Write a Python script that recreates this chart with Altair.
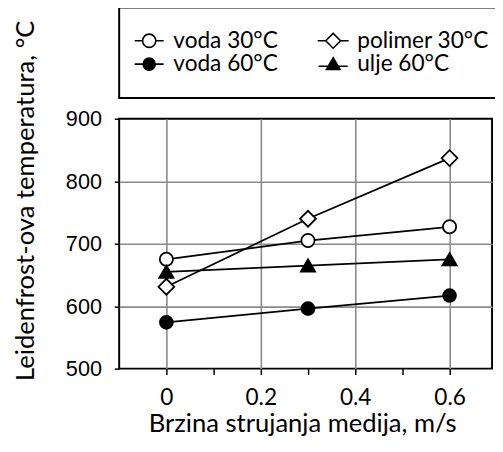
import altair as alt
import pandas as pd

speeds = [0.0, 0.3, 0.6]
series_names = ["voda 30°C", "polimer 30°C", "voda 60°C", "ulje 60°C"]
voda30 = [675, 705, 727]
polimer30 = [631, 740, 837]
voda60 = [574, 596, 617]
ulje60 = [655, 665, 675]

# legend order (legend fills column by column)
legend_order = ["voda 30°C", "voda 60°C", "polimer 30°C", "ulje 60°C"]

x_ticks = [0, 0.1, 0.2, 0.3, 0.4, 0.5, 0.6]
y_ticks = [500, 600, 700, 800, 900]

marker_shapes = ["circle", "diamond", "circle", "triangle-up"]
marker_fills = ["white", "white", "black", "black"]
marker_sizes = [180, 260, 170, 210]

# legend symbols: marker with short line stubs (same order as legend_order)
legend_paths = [
    "M0.64,0 A0.64,0.64 0 1,1 -0.64,0 A0.64,0.64 0 1,1 0.64,0 Z M-1.4,0 L-0.64,0 M0.64,0 L1.4,0",
    "M0.58,0 A0.58,0.58 0 1,1 -0.58,0 A0.58,0.58 0 1,1 0.58,0 Z M-1.4,0 L-0.58,0 M0.58,0 L1.4,0",
    "M0,-0.72 L0.72,0 L0,0.72 L-0.72,0 Z M-1.5,0 L-0.72,0 M0.72,0 L1.5,0",
    "M0,-0.62 L0.66,0.52 L-0.66,0.52 Z M-1.4,0.2 L1.4,0.2",
]
legend_fills = ["white", "black", "white", "black"]

rows = []
for name, vals in zip(series_names, [voda30, polimer30, voda60, ulje60]):
    for s, v in zip(speeds, vals):
        rows.append({"serija": name, "brzina": s, "temp": v})
df = pd.DataFrame(rows)

hide_minor = "round(datum.value*10) % 2 == 1"
x_enc = alt.X(
    "brzina:Q",
    scale=alt.Scale(domain=[-0.1, 0.69], nice=False, zero=False),
    axis=alt.Axis(
        values=x_ticks,
        format="~g",
        labelExpr=f"{hide_minor} ? '' : datum.label",
        gridOpacity={"condition": {"test": hide_minor, "value": 0}, "value": 1},
        title="Brzina strujanja medija, m/s",
        titleFont="Lato",
        titleFontSize=26,
        titleFontWeight="normal",
        titleColor="black",
        titleBaseline="alphabetic",
        titleAlign="center",
        titleX=186,
        titleY=64,
        labelFont="Lato",
        labelFontSize=23,
        labelColor="black",
        labelBaseline="alphabetic",
        labelPadding=30,
        tickSize=6,
    ),
)
y_enc = alt.Y(
    "temp:Q",
    scale=alt.Scale(domain=[500, 900], nice=False, zero=False),
    axis=alt.Axis(
        values=y_ticks,
        gridOpacity={"condition": {"test": "datum.value == 500 || datum.value == 900", "value": 0}, "value": 1},
        title="Leidenfrost-ova temperatura, °C",
        titleFont="Lato",
        titleFontSize=26,
        titleFontWeight="normal",
        titleColor="black",
        titleAngle=270,
        titleAlign="left",
        titleBaseline="alphabetic",
        titleX=-87,
        titleY=266,
        labelFont="Liberation Sans",
        labelFontSize=22,
        labelColor="black",
        labelPadding=13,
        tickSize=5,
    ),
)

lines = alt.Chart(df).mark_line(color="black", strokeWidth=1.8).encode(
    x=x_enc, y=y_enc, detail="serija:N"
)

marker_layers = []
for name, shp, fc, sz in zip(series_names, marker_shapes, marker_fills, marker_sizes):
    marker_layers.append(
        alt.Chart(df)
        .transform_filter(alt.datum.serija == name)
        .mark_point(shape=shp, filled=True, fill=fc, stroke="black",
                    strokeWidth=1.8, size=sz, opacity=1)
        .encode(x=x_enc, y=y_enc)
    )

leg = alt.Legend(
    title=None,
    orient="none",
    legendX=0,
    legendY=-113,
    columns=2,
    labelFont="Lato",
    labelFontSize=23,
    labelColor="black",
    labelLimit=300,
    labelOffset=13,
    symbolSize=441,
    symbolStrokeWidth=1.6,
    symbolOpacity=1,
    symbolOffset=-3,
    columnPadding=36,
    rowPadding=-2,
    padding=22,
    strokeColor="black",
    fillColor="white",
)

legend_layer = alt.Chart(df).mark_point(opacity=0, stroke="black", strokeWidth=1.6).encode(
    x=x_enc,
    y=y_enc,
    shape=alt.Shape("serija:N", scale=alt.Scale(domain=legend_order, range=legend_paths), legend=leg),
    fill=alt.Fill("serija:N", scale=alt.Scale(domain=legend_order, range=legend_fills), legend=leg),
)

chart = (
    alt.layer(lines, *marker_layers, legend_layer)
    .properties(
        width=379,
        height=254,
        padding={"left": 113, "top": 109, "right": 3, "bottom": 70},
        autosize=alt.AutoSizeParams(type="none"),
    )
    .configure_view(stroke="black", strokeWidth=2)
    .configure_legend(strokeWidth=2)
    .configure_axis(
        domain=False,
        gridColor="#8a8a8a",
        gridWidth=1.6,
        tickColor="black",
        tickWidth=1.5,
    )
)

chart.save("out.html", embed_options={"renderer": "svg", "actions": False})
